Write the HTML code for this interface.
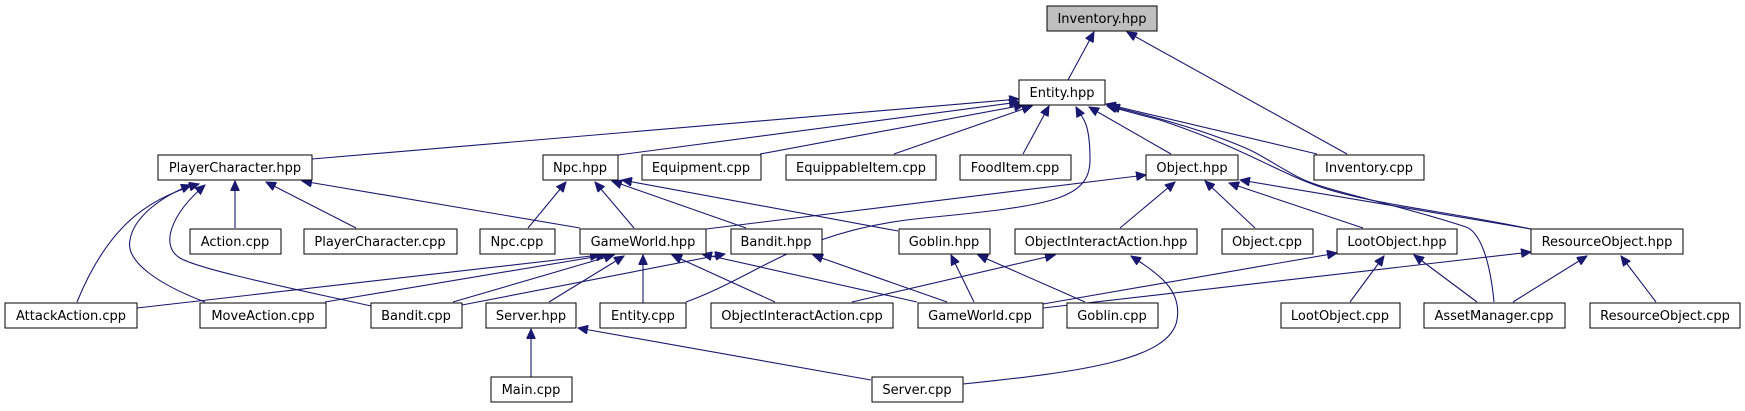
<!DOCTYPE html>
<html><head><meta charset="utf-8"><style>
html,body{margin:0;padding:0;background:#fff;}
svg{display:block;}
text{font-family:"DejaVu Sans","Liberation Sans",sans-serif;font-size:13px;fill:#000;}
.b{fill:#fff;stroke:#000;stroke-width:1;}
.e{fill:none;stroke:#191970;stroke-width:1.1;marker-end:url(#a);}
</style></head><body>
<svg width="1745" height="411" viewBox="0 0 1745 411" xmlns="http://www.w3.org/2000/svg">
<defs><marker id="a" markerUnits="userSpaceOnUse" markerWidth="11" markerHeight="9" refX="10" refY="4.5" orient="auto"><path d="M0,0 L10,4.5 L0,9 z" fill="#191970" stroke="#191970"/></marker></defs>

<line class="e" x1="1068" y1="80" x2="1094" y2="32"/>
<line class="e" x1="1347" y1="154" x2="1127" y2="32"/>
<line class="e" x1="312" y1="159" x2="1019" y2="99"/>
<line class="e" x1="618" y1="155" x2="1019" y2="102"/>
<line class="e" x1="760" y1="154" x2="1024" y2="105"/>
<line class="e" x1="894" y1="154" x2="1032" y2="106"/>
<line class="e" x1="1023" y1="154" x2="1049" y2="106"/>
<path class="e" d="M686,302 C760,275 800,230 924,218 S1090,200 1090,160 S1082,118 1076,107"/>
<line class="e" x1="1171" y1="154" x2="1089" y2="107"/>
<line class="e" x1="1317" y1="154" x2="1106" y2="104"/>
<path class="e" d="M1531,229 C1450,212 1380,205 1330,190 S1250,150 1160,120 L1107,106"/>
<path class="e" d="M1494,302 C1490,260 1480,232 1466,227 C1400,205 1330,192 1302,179 C1280,168 1270,160 1250,150 C1210,132 1160,118 1110,106"/>

<line class="e" x1="235" y1="228" x2="235" y2="181"/>
<line class="e" x1="356" y1="228" x2="266" y2="182"/>
<line class="e" x1="580" y1="228" x2="302" y2="181"/>
<path class="e" d="M77,302 C90,270 105,245 125,225 C145,205 170,192 199,184"/>
<path class="e" d="M205,302 C160,285 125,262 130,240 C134,215 165,195 191,185"/>
<path class="e" d="M371,306 C300,290 200,270 180,258 C160,246 170,215 205,185"/>

<line class="e" x1="528" y1="228" x2="566" y2="182"/>
<line class="e" x1="634" y1="228" x2="595" y2="182"/>
<line class="e" x1="746" y1="228" x2="612" y2="181"/>
<line class="e" x1="898" y1="231" x2="622" y2="180"/>

<line class="e" x1="706" y1="229" x2="1146" y2="175"/>
<line class="e" x1="1120" y1="228" x2="1175" y2="182"/>
<line class="e" x1="1255" y1="228" x2="1205" y2="181"/>
<line class="e" x1="1363" y1="228" x2="1229" y2="183"/>
<line class="e" x1="1531" y1="229" x2="1240" y2="180"/>

<line class="e" x1="137" y1="308" x2="600" y2="255"/>
<line class="e" x1="325" y1="302" x2="606" y2="255"/>
<line class="e" x1="453" y1="302" x2="614" y2="255"/>
<line class="e" x1="549" y1="302" x2="624" y2="256"/>
<line class="e" x1="643" y1="303" x2="643" y2="255"/>
<line class="e" x1="775" y1="302" x2="672" y2="255"/>
<line class="e" x1="917" y1="302" x2="702" y2="254"/>
<line class="e" x1="462" y1="305" x2="725" y2="254"/>
<line class="e" x1="947" y1="302" x2="813" y2="255"/>
<line class="e" x1="974" y1="302" x2="951" y2="255"/>
<line class="e" x1="1085" y1="302" x2="978" y2="255"/>
<line class="e" x1="852" y1="302" x2="1055" y2="255"/>
<path class="e" d="M963,384 C1080,372 1170,360 1177,320 C1182,290 1160,275 1131,256"/>
<line class="e" x1="1043" y1="304" x2="1337" y2="253"/>
<line class="e" x1="1350" y1="302" x2="1384" y2="256"/>
<line class="e" x1="1477" y1="302" x2="1414" y2="255"/>
<line class="e" x1="1043" y1="308" x2="1531" y2="252"/>
<line class="e" x1="1513" y1="302" x2="1587" y2="256"/>
<line class="e" x1="1656" y1="302" x2="1621" y2="256"/>
<line class="e" x1="531" y1="377" x2="531" y2="329"/>
<line class="e" x1="871" y1="380" x2="578" y2="328"/>

<rect x="1047" y="6" width="110" height="25" fill="#bfbfbf" stroke="#000"/><text x="1102" y="23" text-anchor="middle">Inventory.hpp</text>
<rect class="b" x="1019" y="80" width="86" height="25"/><text x="1062" y="97" text-anchor="middle">Entity.hpp</text>

<rect class="b" x="158" y="155" width="154" height="25"/><text x="235" y="172" text-anchor="middle">PlayerCharacter.hpp</text>
<rect class="b" x="543" y="155" width="75" height="25"/><text x="580" y="172" text-anchor="middle">Npc.hpp</text>
<rect class="b" x="642" y="155" width="119" height="25"/><text x="701" y="172" text-anchor="middle">Equipment.cpp</text>
<rect class="b" x="786" y="155" width="150" height="25"/><text x="861" y="172" text-anchor="middle">EquippableItem.cpp</text>
<rect class="b" x="960" y="155" width="111" height="25"/><text x="1015" y="172" text-anchor="middle">FoodItem.cpp</text>
<rect class="b" x="1146" y="155" width="92" height="25"/><text x="1192" y="172" text-anchor="middle">Object.hpp</text>
<rect class="b" x="1314" y="155" width="110" height="25"/><text x="1369" y="172" text-anchor="middle">Inventory.cpp</text>

<rect class="b" x="190" y="229" width="91" height="25"/><text x="235" y="246" text-anchor="middle">Action.cpp</text>
<rect class="b" x="304" y="229" width="153" height="25"/><text x="380" y="246" text-anchor="middle">PlayerCharacter.cpp</text>
<rect class="b" x="480" y="229" width="75" height="25"/><text x="517" y="246" text-anchor="middle">Npc.cpp</text>
<rect class="b" x="580" y="229" width="126" height="25"/><text x="643" y="246" text-anchor="middle">GameWorld.hpp</text>
<rect class="b" x="731" y="229" width="91" height="25"/><text x="776" y="246" text-anchor="middle">Bandit.hpp</text>
<rect class="b" x="899" y="229" width="91" height="25"/><text x="944" y="246" text-anchor="middle">Goblin.hpp</text>
<rect class="b" x="1015" y="229" width="182" height="25"/><text x="1106" y="246" text-anchor="middle">ObjectInteractAction.hpp</text>
<rect class="b" x="1222" y="229" width="91" height="25"/><text x="1267" y="246" text-anchor="middle">Object.cpp</text>
<rect class="b" x="1337" y="229" width="120" height="25"/><text x="1397" y="246" text-anchor="middle">LootObject.hpp</text>
<rect class="b" x="1531" y="229" width="152" height="25"/><text x="1607" y="246" text-anchor="middle">ResourceObject.hpp</text>

<rect class="b" x="5" y="303" width="132" height="25"/><text x="71" y="320" text-anchor="middle">AttackAction.cpp</text>
<rect class="b" x="200" y="303" width="126" height="25"/><text x="263" y="320" text-anchor="middle">MoveAction.cpp</text>
<rect class="b" x="371" y="303" width="91" height="25"/><text x="416" y="320" text-anchor="middle">Bandit.cpp</text>
<rect class="b" x="486" y="303" width="90" height="25"/><text x="531" y="320" text-anchor="middle">Server.hpp</text>
<rect class="b" x="600" y="303" width="86" height="25"/><text x="643" y="320" text-anchor="middle">Entity.cpp</text>
<rect class="b" x="711" y="303" width="182" height="25"/><text x="802" y="320" text-anchor="middle">ObjectInteractAction.cpp</text>
<rect class="b" x="918" y="303" width="125" height="25"/><text x="980" y="320" text-anchor="middle">GameWorld.cpp</text>
<rect class="b" x="1067" y="303" width="91" height="25"/><text x="1112" y="320" text-anchor="middle">Goblin.cpp</text>
<rect class="b" x="1281" y="303" width="119" height="25"/><text x="1340" y="320" text-anchor="middle">LootObject.cpp</text>
<rect class="b" x="1424" y="303" width="141" height="25"/><text x="1494" y="320" text-anchor="middle">AssetManager.cpp</text>
<rect class="b" x="1590" y="303" width="150" height="25"/><text x="1665" y="320" text-anchor="middle">ResourceObject.cpp</text>

<rect class="b" x="491" y="377" width="81" height="25"/><text x="531" y="394" text-anchor="middle">Main.cpp</text>
<rect class="b" x="872" y="377" width="91" height="25"/><text x="917" y="394" text-anchor="middle">Server.cpp</text>
</svg>
</body></html>
